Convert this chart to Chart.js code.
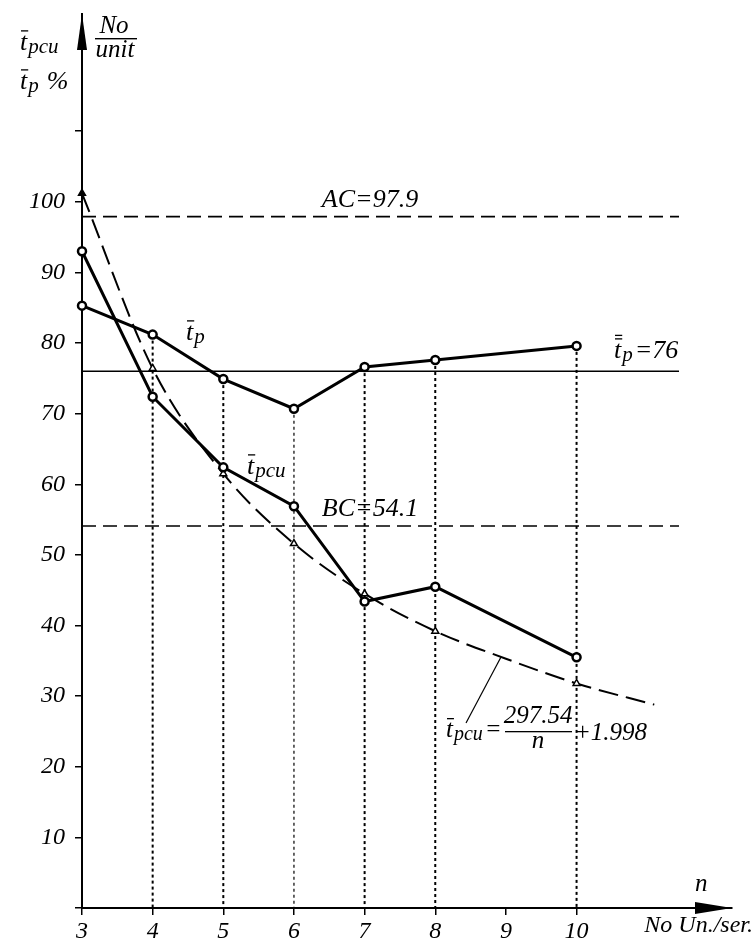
<!DOCTYPE html>
<html>
<head>
<meta charset="utf-8">
<script src="https://cdn.jsdelivr.net/npm/chart.js@4.4.0/dist/chart.umd.min.js"></script>
<style>
    html, body { margin: 0; padding: 0; background: #fff; }
    #wrap { width: 754px; height: 942px; }
</style>
</head>
<body>
<div id="wrap"><canvas id="unitChart" width="754" height="942"></canvas></div>
<script>
// values
const nValues = [3, 4, 5, 6, 7, 8, 10];
const tpValues = [85.3, 81.2, 74.9, 70.7, 76.6, 77.6, 79.6];
const tpcuValues = [93.0, 72.4, 62.4, 56.9, 43.4, 45.5, 35.5];

// regression curve t_pcu = 297.54/n + 1.998
const curveN = [3, 4, 5, 6, 7, 8, 9, 10, 11.1];
const curveValues = [101.2, 76.4, 61.5, 51.6, 44.5, 39.2, 35.3, 31.8, 28.8];
const curveMarked = [true, true, true, true, true, true, false, true, false];

const acValue = 97.9;
const bcValue = 54.1;
const tpMean = 76;
const refLineN = [3, 11.45];

const xTicks = [3, 4, 5, 6, 7, 8, 9, 10];
const yTicks = [0, 10, 20, 30, 40, 50, 60, 70, 80, 90, 100, 110];

const SERIF = '"Liberation Serif", "DejaVu Serif", serif';

function pairs(xs, ys) {
    return xs.map((x, i) => ({ x: x, y: ys[i] }));
}

function refLine(value, dash, width) {
    return {
        data: refLineN.map((n) => ({ x: n, y: value })),
        borderColor: "#000",
        borderWidth: width,
        borderDash: dash,
        pointRadius: 0,
        order: 2,
    };
}

// dotted drop lines from the upper series down to the axis
const dropLines = nValues.slice(1).map((n, i) => ({
    data: [{ x: n, y: tpValues[i + 1] }, { x: n, y: 0 }],
    borderColor: "#000",
    borderWidth: n === 6 ? 1.2 : 2,
    borderDash: [3, 3],
    pointRadius: 0,
    order: 3,
}));

// t with overbar(s) and italic subscript
function tBar(ctx, x, y, sub, bars, size) {
    ctx.font = `italic ${size}px ${SERIF}`;
    ctx.textAlign = "left";
    ctx.fillText("t", x, y);
    const tw = ctx.measureText("t").width;
    for (let i = 0; i < bars; i++) {
        ctx.fillRect(x + 1, y - size * 0.76 - i * 3.5, tw, 1.3);
    }
    ctx.font = `italic ${Math.round(size * 0.8)}px ${SERIF}`;
    ctx.fillText(sub, x + tw + 1, y + size * 0.12);
    return x + tw + 1 + ctx.measureText(sub).width;
}

const decorations = {
    id: "decorations",
    afterDraw(chart) {
        const ctx = chart.ctx;
        const xs = chart.scales.x;
        const ys = chart.scales.y;
        const x0 = xs.left;
        const yAxis = ys.bottom;
        ctx.save();
        ctx.fillStyle = "#000";
        ctx.strokeStyle = "#000";

        // axis arrows
        ctx.beginPath();
        ctx.moveTo(x0, ys.top);
        ctx.lineTo(x0 - 5, ys.top + 36);
        ctx.lineTo(x0 + 5, ys.top + 36);
        ctx.closePath();
        ctx.fill();

        ctx.beginPath();
        ctx.moveTo(xs.right, yAxis);
        ctx.lineTo(xs.right - 37, yAxis - 6);
        ctx.lineTo(xs.right - 37, yAxis + 6);
        ctx.closePath();
        ctx.fill();

        // y axis title
        tBar(ctx, 20, 50, "pcu", 1, 26);
        const after = tBar(ctx, 20, 89, "p", 1, 26);
        ctx.font = `italic 26px ${SERIF}`;
        ctx.fillText("%", after + 8, 89);

        ctx.textAlign = "center";
        ctx.font = `italic 25px ${SERIF}`;
        ctx.fillText("No", 114, 33);
        ctx.fillText("unit", 115, 57);
        ctx.fillRect(95, 38, 42, 1.4);

        // reference line labels
        ctx.font = `italic 26px ${SERIF}`;
        ctx.fillText("AC=97.9", 370, 207);
        ctx.fillText("BC=54.1", 370, 516);

        const end = tBar(ctx, 614, 358, "p", 2, 26);
        ctx.font = `italic 26px ${SERIF}`;
        ctx.textAlign = "left";
        ctx.fillText("=76", end + 2, 358);

        // series labels
        tBar(ctx, 186, 340, "p", 1, 26);
        tBar(ctx, 247, 474, "pcu", 1, 26);

        // regression formula
        const fx = tBar(ctx, 446, 737, "pcu", 1, 25);
        ctx.font = `italic 25px ${SERIF}`;
        ctx.textAlign = "left";
        ctx.fillText("=", fx + 2, 737);
        ctx.textAlign = "center";
        ctx.fillText("297.54", 538, 723);
        ctx.fillText("n", 538, 748);
        ctx.fillRect(505, 731, 67, 1.3);
        ctx.textAlign = "left";
        ctx.fillText("+1.998", 574, 740);

        ctx.lineWidth = 1.2;
        ctx.beginPath();
        ctx.moveTo(466, 723);
        ctx.lineTo(501, 657);
        ctx.stroke();

        // x axis title
        ctx.font = `italic 25px ${SERIF}`;
        ctx.fillText("n", 695, 891);
        ctx.textAlign = "right";
        ctx.font = `italic 24px ${SERIF}`;
        ctx.fillText("No Un./ser.", 753, 932);

        ctx.restore();
    },
};

new Chart(document.getElementById("unitChart").getContext("2d"), {
    type: "line",
    data: {
        datasets: [
            {
                data: pairs(nValues, tpValues),
                borderColor: "#000",
                borderWidth: 3,
                pointRadius: 4,
                pointBorderWidth: 2.5,
                pointBackgroundColor: "#fff",
                pointBorderColor: "#000",
                clip: false,
                order: 0,
            },
            {
                data: pairs(nValues, tpcuValues),
                borderColor: "#000",
                borderWidth: 3,
                pointRadius: 4,
                pointBorderWidth: 2.5,
                pointBackgroundColor: "#fff",
                pointBorderColor: "#000",
                clip: false,
                order: 0,
            },
            {
                data: pairs(curveN, curveValues),
                borderColor: "#000",
                borderWidth: 2,
                borderDash: [20, 8],
                cubicInterpolationMode: "monotone",
                pointStyle: "triangle",
                pointRadius: curveMarked.map((m) => (m ? 4 : 0)),
                pointBorderWidth: 1.5,
                pointBorderColor: "#000",
                pointBackgroundColor: curveMarked.map((m, i) => (i === 0 ? "#000" : "#fff")),
                clip: false,
                order: 1,
            },
            refLine(acValue, [14, 7], 1.6),
            refLine(bcValue, [14, 7], 1.6),
            refLine(tpMean, [], 1.6),
            ...dropLines,
        ],
    },
    options: {
        responsive: false,
        animation: false,
        layout: { padding: { top: 14, right: 22, left: 0, bottom: 0 } },
        plugins: {
            legend: { display: false },
            tooltip: { enabled: false },
        },
        scales: {
            x: {
                type: "linear",
                min: 3,
                max: 12.2,
                afterBuildTicks: (scale) => {
                    scale.ticks = xTicks.map((v) => ({ value: v }));
                },
                afterFit: (scale) => {
                    scale.height = 34;
                    scale.paddingLeft = 0;
                    scale.paddingRight = 0;
                },
                ticks: {
                    color: "#000",
                    padding: 2,
                    font: { family: SERIF, style: "italic", size: 24 },
                },
                grid: { drawOnChartArea: false, drawTicks: true, tickLength: 7, color: "#000", lineWidth: 1.5 },
                border: { display: true, color: "#000", width: 2 },
            },
            y: {
                type: "linear",
                min: 0,
                max: 126.6,
                afterBuildTicks: (scale) => {
                    scale.ticks = yTicks.map((v) => ({ value: v }));
                },
                afterFit: (scale) => {
                    scale.width = 82;
                    scale.paddingTop = 0;
                    scale.paddingBottom = 0;
                },
                ticks: {
                    color: "#000",
                    padding: 10,
                    font: { family: SERIF, style: "italic", size: 24 },
                    callback: (v) => (v === 0 || v === 110 ? "" : v),
                },
                grid: { drawOnChartArea: false, drawTicks: true, tickLength: 7, color: "#000", lineWidth: 1.5 },
                border: { display: true, color: "#000", width: 2 },
            },
        },
    },
    plugins: [decorations],
});
</script>
</body>
</html>
